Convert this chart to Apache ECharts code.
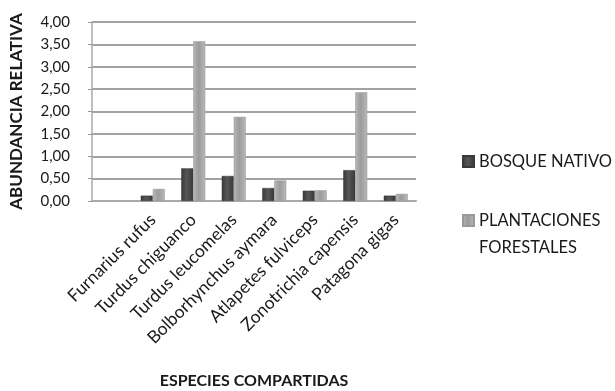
<!DOCTYPE html>
<html>
<head>
<meta charset="utf-8">
<script src="https://cdn.jsdelivr.net/npm/echarts@6/dist/echarts.min.js"></script>
<style>
  html, body { margin: 0; padding: 0; background: #fff; }
  #chart { width: 615px; height: 391px; }
</style>
</head>
<body>
<div id="chart"></div>
<script>
// datos
const especies = ['Furnarius rufus', 'Turdus chiguanco', 'Turdus leucomelas', 'Bolborhynchus aymara', 'Atlapetes fulviceps', 'Zonotrichia capensis', 'Patagona gigas'];
const bosqueNativo = [0.12, 0.73, 0.56, 0.29, 0.23, 0.69, 0.12];
const plantaciones = [0.27, 3.57, 1.88, 0.46, 0.24, 2.43, 0.16];
const yTicks = [0, 0.5, 1, 1.5, 2, 2.5, 3, 3.5, 4];

const FONT = 'Lato';
const TXT = '#1a1a1a';

// el original tiene una primera categoria vacia
const axisCats = [''].concat(especies);
const pad = arr => [null].concat(arr);

function shade(c1, c2) {
    return new echarts.graphic.LinearGradient(0, 0, 1, 0, [
        { offset: 0, color: c1 },
        { offset: 0.45, color: c2 },
        { offset: 1, color: c1 }
    ]);
}

const chart = echarts.init(document.getElementById('chart'), null, { renderer: 'canvas' });
chart.setOption({
    animation: false,
    textStyle: { fontFamily: FONT },
    grid: { left: 92, right: 199, top: 22, bottom: 190, containLabel: false },
    legend: {
        orient: 'vertical',
        left: 462,
        top: 148,
        padding: 0,
        itemWidth: 11,
        itemHeight: 11,
        itemGap: 5,
        icon: 'rect',
        textStyle: { fontFamily: FONT, fontSize: 16.5, color: TXT, lineHeight: 27 },
        // linea vacia delante para que el icono quede a la altura de la primera linea
        formatter: name => name === 'PLANTACIONES FORESTALES' ? '\nPLANTACIONES\nFORESTALES' : name
    },
    xAxis: {
        type: 'category',
        data: axisCats,
        axisTick: { show: false },
        axisLine: { lineStyle: { color: '#aaa', width: 2 } },
        axisLabel: {
            rotate: 45,
            interval: 0,
            margin: 16,
            fontSize: 17.5,
            color: TXT,
            fontFamily: FONT
        },
        name: 'ESPECIES COMPARTIDAS',
        nameLocation: 'middle',
        nameGap: 172,
        nameTextStyle: { fontFamily: FONT, fontWeight: 'bold', fontSize: 16, color: TXT }
    },
    yAxis: {
        type: 'value',
        min: yTicks[0],
        max: yTicks[yTicks.length - 1],
        interval: 0.5,
        axisLine: { show: true, lineStyle: { color: '#aaa', width: 1.5 } },
        axisTick: { show: true, length: 4, lineStyle: { color: '#999' } },
        axisLabel: {
            margin: 22,
            fontSize: 15,
            color: TXT,
            fontFamily: FONT,
            formatter: v => v.toFixed(2).replace('.', ',')
        },
        splitLine: { lineStyle: { color: '#a2a2a2', width: 2 } },
        name: 'ABUNDANCIA RELATIVA',
        nameLocation: 'middle',
        nameGap: 67,
        nameRotate: 90,
        nameTextStyle: { fontFamily: FONT, fontWeight: 'bold', fontSize: 17, color: TXT }
    },
    series: [
        {
            name: 'BOSQUE NATIVO',
            type: 'bar',
            data: pad(bosqueNativo),
            barWidth: 12,
            barGap: '0%',
            itemStyle: { color: shade('#383838', '#575757'), borderColor: '#3a3a3a', borderWidth: 0.5 }
        },
        {
            name: 'PLANTACIONES FORESTALES',
            type: 'bar',
            data: pad(plantaciones),
            barWidth: 12,
            itemStyle: { color: shade('#b8b8b8', '#9c9c9c'), borderColor: '#999', borderWidth: 0.5 }
        }
    ]
});
</script>
</body>
</html>
